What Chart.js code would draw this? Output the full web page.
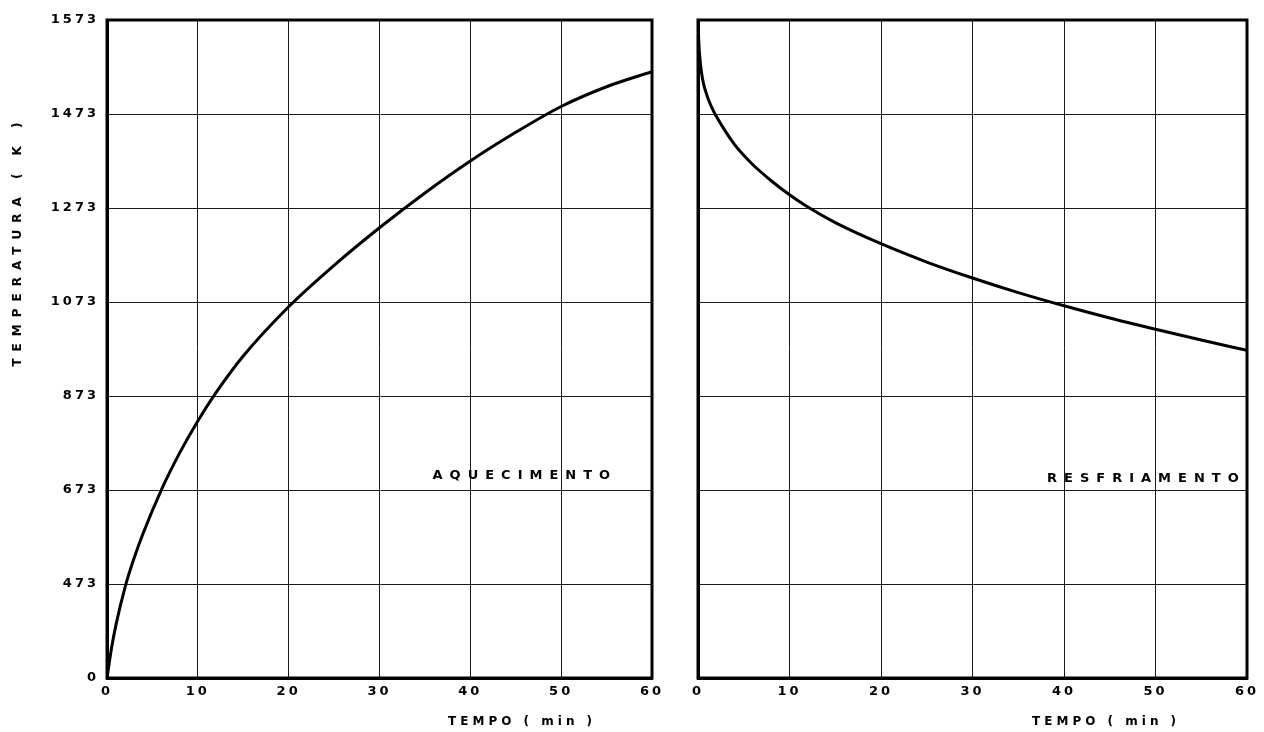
<!DOCTYPE html>
<html>
<head>
<meta charset="utf-8">
<script src="https://cdn.jsdelivr.net/npm/chart.js@4.4.1/dist/chart.umd.min.js"></script>
<style>
  html, body { margin: 0; padding: 0; background: #fff; }
  #wrap { position: relative; width: 1264px; height: 732px; overflow: hidden; }
  canvas { position: absolute; top: 0; }
  #heat { left: 0; }
  #cool { left: 680px; }
</style>
</head>
<body>
<div id="wrap">
  <canvas id="heat" width="680" height="732"></canvas>
  <canvas id="cool" width="584" height="732"></canvas>
</div>
<script>
// Axis ticks
const timeTicks = [0, 10, 20, 30, 40, 50, 60];
const tempTicks = [0, 473, 673, 873, 1073, 1273, 1473, 1573];

// Heating curve: time (min) and temperature (K)
const heatTime = [0, 0.5, 1, 2, 3, 4, 6, 8, 10, 12, 15, 20, 25, 30, 35, 40, 45, 50, 55, 60];
const heatTemp = [0, 151, 270, 459, 529, 582, 674, 752, 820, 880, 958, 1063, 1151, 1231, 1305, 1373, 1434, 1481, 1502, 1518];

// Cooling curve: time (min) and temperature (K)
const coolTime = [0, 0.1, 0.25, 0.5, 1, 1.5, 2, 3, 4, 5, 6, 8, 10, 12, 15, 20, 25, 30, 35, 40, 45, 50, 55, 60];
const coolTemp = [1573, 1547, 1528, 1510, 1492, 1480, 1468, 1436, 1408, 1385, 1365, 1331, 1301, 1275, 1242, 1197, 1158, 1124, 1093, 1065, 1039, 1015, 992, 970];

const FONT = '"DejaVu Sans", "Liberation Sans", sans-serif';

// The temperature axis has evenly spaced gridlines for unevenly spaced values,
// so each temperature is placed by its position between neighbouring ticks.
function toGrid(T) {
  for (let i = 0; i < tempTicks.length - 1; i++) {
    const a = tempTicks[i], b = tempTicks[i + 1];
    if (T <= b || i === tempTicks.length - 2) return i + (T - a) / (b - a);
  }
  return tempTicks.length - 1;
}

const framePlugin = {
  id: 'frame',
  beforeDraw(chart) {
    chart.ctx.letterSpacing = '3px';
  },
  afterDraw(chart, args, opts) {
    const { ctx, chartArea: a } = chart;
    const xs = chart.scales.x, ys = chart.scales.y;
    ctx.save();
    ctx.strokeStyle = '#000';
    ctx.lineWidth = 3;
    ctx.strokeRect(a.left, a.top, a.right - a.left, a.bottom - a.top);

    ctx.fillStyle = '#000';
    ctx.textAlign = 'center';
    ctx.textBaseline = 'middle';

    // curve name inside the plot
    ctx.font = 'bold 13px ' + FONT;
    ctx.letterSpacing = '7px';
    ctx.fillText(opts.name, xs.getPixelForValue(opts.nameAt[0]), ys.getPixelForValue(opts.nameAt[1]));

    // time axis title
    ctx.font = 'bold 12px ' + FONT;
    ctx.letterSpacing = '4px';
    ctx.fillText('TEMPO ( min )', xs.getPixelForValue(opts.timeTitleAt), a.bottom + 44);

    // temperature axis title
    if (opts.tempTitle) {
      ctx.translate(18, 241);
      ctx.rotate(-Math.PI / 2);
      ctx.font = 'bold 12px ' + FONT;
      ctx.letterSpacing = '7px';
      ctx.fillText(opts.tempTitle, 0, 0);
    }
    ctx.restore();
    ctx.letterSpacing = '0px';
  }
};

function makeChart(id, times, temps, cfg) {
  const points = times.map((t, i) => ({ x: t, y: toGrid(temps[i]) }));
  return new Chart(document.getElementById(id), {
    type: 'line',
    data: {
      datasets: [{
        data: points,
        borderColor: '#000',
        borderWidth: 3,
        pointRadius: 0,
        cubicInterpolationMode: 'monotone',
        fill: false
      }]
    },
    options: {
      responsive: false,
      animation: false,
      events: [],
      layout: { padding: cfg.padding },
      plugins: {
        legend: { display: false },
        tooltip: { enabled: false },
        frame: cfg.frame
      },
      scales: {
        x: {
          type: 'linear',
          min: 0, max: 60,
          afterBuildTicks: s => { s.ticks = timeTicks.map(v => ({ value: v })); },
          afterFit: s => { s.height = 54; },
          ticks: {
            color: '#000',
            font: { family: FONT, size: 13, weight: 'bold' },
            padding: 6,
            maxRotation: 0
          },
          grid: { color: '#1a1a1a', lineWidth: 1, drawTicks: false },
          border: { display: true, color: '#000', width: 3 }
        },
        y: {
          type: 'linear',
          min: 0, max: tempTicks.length - 1,
          afterBuildTicks: s => { s.ticks = tempTicks.map((v, i) => ({ value: i })); },
          afterFit: s => { s.width = cfg.yWidth; },
          ticks: {
            display: cfg.showTempTicks,
            color: '#000',
            font: { family: FONT, size: 13, weight: 'bold' },
            padding: 8,
            callback: v => String(tempTicks[v])
          },
          grid: { color: '#1a1a1a', lineWidth: 1, drawTicks: false },
          border: { display: true, color: '#000', width: 3 }
        }
      }
    },
    plugins: [framePlugin]
  });
}

makeChart('heat', heatTime, heatTemp, {
  padding: { left: 0, top: 20, right: 28, bottom: 0 },
  yWidth: 107,
  showTempTicks: true,
  frame: { name: 'AQUECIMENTO', nameAt: [46.0, 2.15], timeTitleAt: 45.7, tempTitle: 'TEMPERATURA ( K )' }
});

makeChart('cool', coolTime, coolTemp, {
  padding: { left: 18, top: 20, right: 17, bottom: 0 },
  yWidth: 0,
  showTempTicks: false,
  frame: { name: 'RESFRIAMENTO', nameAt: [49.0, 2.12], timeTitleAt: 44.6, tempTitle: null }
});
</script>
</body>
</html>
